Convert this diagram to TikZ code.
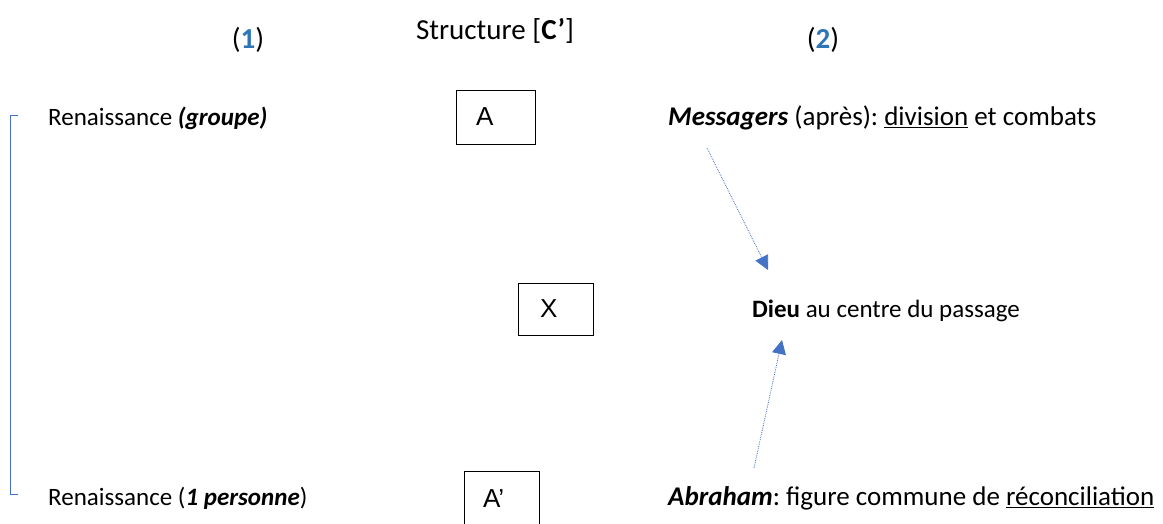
\documentclass[tikz,border=0pt]{standalone}
\usepackage{fontspec}
\setmainfont{Carlito}
\newfontfamily\arialf{Liberation Sans}
\usetikzlibrary{arrows.meta}
\definecolor{bl}{HTML}{4472C4}
\definecolor{num}{HTML}{2E75B6}
\frenchspacing
\tikzset{
  txt/.style={anchor=west, inner sep=0pt, font=\fontsize{25}{30}\selectfont},
  big/.style={anchor=west, inner sep=0pt, font=\fontsize{27}{32}\selectfont},
  ctr/.style={inner sep=0pt, font=\fontsize{29}{34}\selectfont},
  lbox/.style={draw, thick, inner ysep=0pt, align=left, font=\arialf\fontsize{26}{30}\selectfont},
  darr/.style={bl, densely dotted, line width=0.8pt, -{Triangle[length=14pt,width=14pt]}}
}
\begin{document}
\begin{tikzpicture}[x=1pt,y=-1pt]
\useasboundingbox (0,0) rectangle (1163,523);
\node[ctr] (n1) at (248,40) {(\textcolor{num}{\textbf{1}})};
\node[ctr] (st) at (495,31) {Structure [\textbf{C’}]};
\node[ctr] (n2) at (823,40) {(\textcolor{num}{\textbf{2}})};
\node[txt] (r1) at (48,118) {Renaissance \textbf{\textit{(groupe)}}};
\node[txt] (r2) at (48,498) {Renaissance (\textbf{\textit{1 personne}})};
\node[lbox, inner xsep=20pt, text width=39pt, minimum height=54pt] (A) at (495.5,117) {A};
\node[lbox, inner xsep=22pt, text width=31pt, minimum height=52pt] (X) at (555.5,309) {X};
\node[lbox, inner xsep=19pt, text width=37pt, minimum height=56pt] (Ap) at (501.5,499) {A’};
\node[big] (m) at (668,118) {\textbf{\textit{Messagers}} (après): \underline{division} et combats};
\node[txt] (d) at (752,311) {\textbf{Dieu} au centre du passage};
\node[big] (ab) at (668,498) {\textbf{\textit{Abraham}}: figure commune de \underline{réconciliation}};
\coordinate (b1) at (18,115);
\coordinate (b2) at (18,494);
\draw[bl, line width=1pt] (b1) -- ++(-8,0) |- (b2);
\coordinate (s1) at (707,148);
\coordinate (e1) at (768,270);
\coordinate (s2) at (754,468);
\coordinate (e2) at (782,340);
\draw[darr] (s1) -- (e1);
\draw[darr] (s2) -- (e2);
\end{tikzpicture}
\end{document}
